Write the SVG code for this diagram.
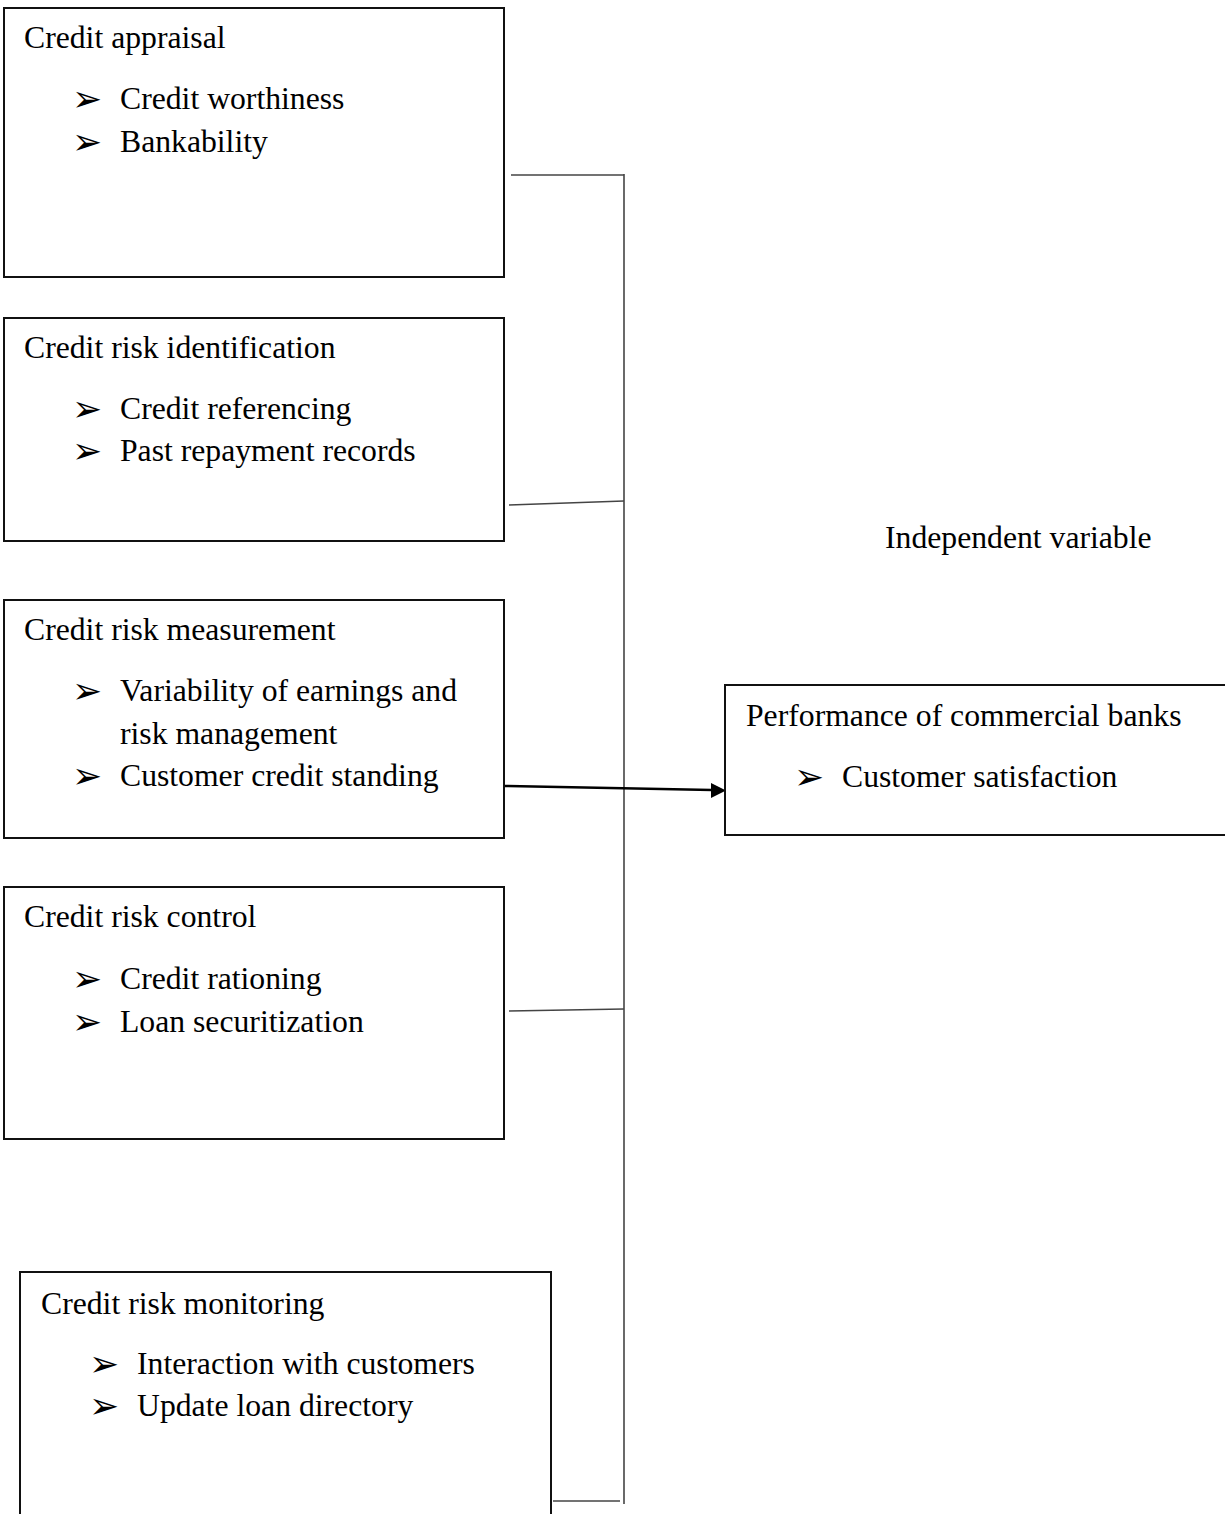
<svg xmlns="http://www.w3.org/2000/svg" width="1225" height="1514" viewBox="0 0 1225 1514">
<style>
.box{fill:#fff;stroke:#111;stroke-width:2}
.t{font-family:"Liberation Serif","Times New Roman",serif;font-size:31.7px;fill:#000}
.b{font-family:"DejaVu Sans",sans-serif;font-size:36px;fill:#000}
.c{stroke:#444;stroke-width:1.6;fill:none}
.a{stroke:#000;stroke-width:2.5;fill:none}
</style>
<rect width="1225" height="1514" fill="#fff"/>
<g id="connectors">
<line class="c" x1="624" y1="174" x2="624" y2="1504"/>
<line class="c" x1="511" y1="175" x2="624" y2="175"/>
<line class="c" x1="509" y1="505" x2="624" y2="501"/>
<line class="c" x1="509" y1="1011" x2="624" y2="1009"/>
<line class="c" x1="553" y1="1501" x2="620" y2="1501"/>
<line class="a" x1="505" y1="786" x2="712" y2="790"/>
<path d="M711,783 L726,790.5 L711,798 Z" fill="#000"/>
</g>
<g id="n1">
<rect class="box" x="4" y="8" width="500" height="269"/>
<text class="t" x="24" y="48">Credit appraisal</text>
<text class="b" x="72" y="111">➢</text><text class="t" x="120" y="109">Credit worthiness</text>
<text class="b" x="72" y="154">➢</text><text class="t" x="120" y="152">Bankability</text>
</g>
<g id="n2">
<rect class="box" x="4" y="318" width="500" height="223"/>
<text class="t" x="24" y="358">Credit risk identification</text>
<text class="b" x="72" y="421">➢</text><text class="t" x="120" y="419">Credit referencing</text>
<text class="b" x="72" y="463">➢</text><text class="t" x="120" y="461">Past repayment records</text>
</g>
<g id="n3">
<rect class="box" x="4" y="600" width="500" height="238"/>
<text class="t" x="24" y="640">Credit risk measurement</text>
<text class="b" x="72" y="703">➢</text><text class="t" x="120" y="701">Variability of earnings and</text>
<text class="t" x="120" y="744">risk management</text>
<text class="b" x="72" y="788">➢</text><text class="t" x="120" y="786">Customer credit standing</text>
</g>
<g id="n4">
<rect class="box" x="4" y="887" width="500" height="252"/>
<text class="t" x="24" y="927">Credit risk control</text>
<text class="b" x="72" y="991">➢</text><text class="t" x="120" y="989">Credit rationing</text>
<text class="b" x="72" y="1034">➢</text><text class="t" x="120" y="1032">Loan securitization</text>
</g>
<g id="n5">
<rect class="box" x="20" y="1272" width="531" height="260"/>
<text class="t" x="41" y="1314">Credit risk monitoring</text>
<text class="b" x="89" y="1376">➢</text><text class="t" x="137" y="1374">Interaction with customers</text>
<text class="b" x="89" y="1418">➢</text><text class="t" x="137" y="1416">Update loan directory</text>
</g>
<g id="n6">
<rect class="box" x="725" y="685" width="510" height="150"/>
<text class="t" x="746" y="726">Performance of commercial banks</text>
<text class="b" x="794" y="789">➢</text><text class="t" x="842" y="787">Customer satisfaction</text>
</g>
<g id="label">
<text class="t" x="885" y="548">Independent variable</text>
</g>
</svg>
